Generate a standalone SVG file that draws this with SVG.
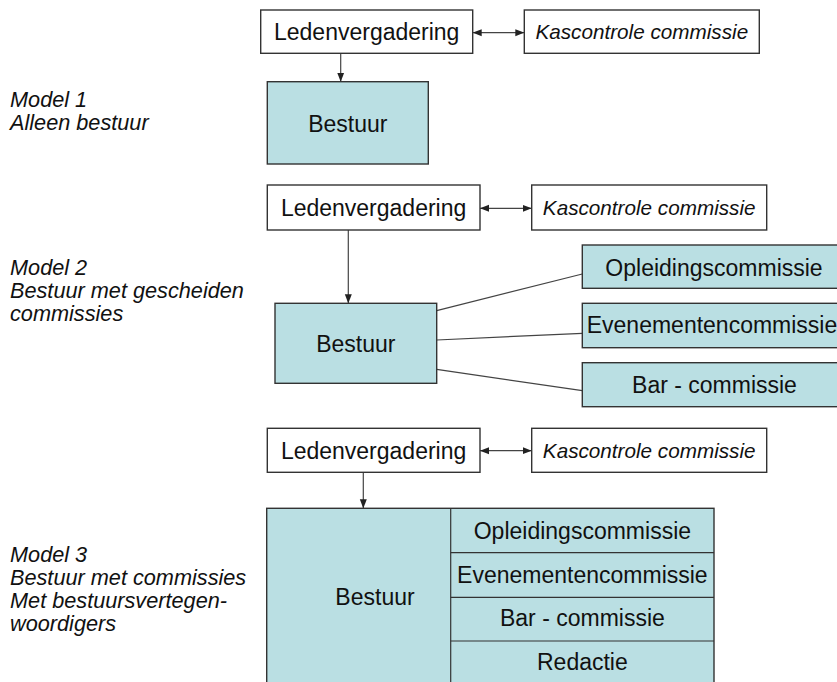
<svg xmlns="http://www.w3.org/2000/svg" width="837" height="682" viewBox="0 0 837 682">
<style>
.box{fill:#ffffff;stroke:#333333;stroke-width:1.4}
.teal{fill:#BADFE3;stroke:#333333;stroke-width:1.4}
.t{font-family:"Liberation Sans",Arial,sans-serif;fill:#111111;text-anchor:middle}
.n{font-size:23px}
.k{font-size:20.7px;font-style:italic}
.lbl{font-family:"Liberation Sans",Arial,sans-serif;fill:#111111;font-size:21.7px;font-style:italic}
.c{stroke:#444444;stroke-width:1.2;fill:none}
.div{stroke:#333333;stroke-width:1.2;fill:none}
</style>
<defs>
<marker id="ah" markerUnits="userSpaceOnUse" markerWidth="9" markerHeight="8" viewBox="0 0 9 8" refX="9" refY="4" orient="auto-start-reverse">
<path d="M0,0.5 L9,4 L0,7.5 Z" fill="#222222"/>
</marker>
</defs>
<rect width="837" height="682" fill="#ffffff"/>

<g id="labels">
<text class="lbl" x="10" y="107">Model 1</text>
<text class="lbl" x="10" y="130">Alleen bestuur</text>
<text class="lbl" x="10" y="275">Model 2</text>
<text class="lbl" x="10" y="298">Bestuur met gescheiden</text>
<text class="lbl" x="10" y="321">commissies</text>
<text class="lbl" x="10" y="562">Model 3</text>
<text class="lbl" x="10" y="585">Bestuur met commissies</text>
<text class="lbl" x="10" y="608">Met bestuursvertegen-</text>
<text class="lbl" x="10" y="631">woordigers</text>
</g>

<g id="connectors">
<line class="c" x1="472.7" y1="32.7" x2="524.3" y2="32.7" marker-start="url(#ah)" marker-end="url(#ah)"/>
<line class="c" x1="340.7" y1="53.3" x2="340.7" y2="81.7" marker-end="url(#ah)"/>
<line class="c" x1="480" y1="208.3" x2="531.7" y2="208.3" marker-start="url(#ah)" marker-end="url(#ah)"/>
<line class="c" x1="348.3" y1="230" x2="348.3" y2="303.3" marker-end="url(#ah)"/>
<line class="c" x1="436.7" y1="310.7" x2="582.3" y2="274"/>
<line class="c" x1="436.7" y1="340" x2="582.3" y2="333.3"/>
<line class="c" x1="436.7" y1="369.3" x2="582.3" y2="390.7"/>
<line class="c" x1="480" y1="450.7" x2="531.7" y2="450.7" marker-start="url(#ah)" marker-end="url(#ah)"/>
<line class="c" x1="363.3" y1="472.3" x2="363.3" y2="508.3" marker-end="url(#ah)"/>
</g>

<g id="m1-leden">
<rect class="box" x="260.7" y="10" width="212" height="43.3"/>
<text class="t n" x="366.7" y="40">Ledenvergadering</text>
</g>
<g id="m1-kas">
<rect class="box" x="524.3" y="10" width="235" height="43.3"/>
<text class="t k" x="641.8" y="39">Kascontrole commissie</text>
</g>
<g id="m1-bestuur">
<rect class="teal" x="267.3" y="81.7" width="161" height="82.3"/>
<text class="t n" x="347.8" y="132">Bestuur</text>
</g>

<g id="m2-leden">
<rect class="box" x="267.3" y="185" width="212.7" height="45"/>
<text class="t n" x="373.6" y="216">Ledenvergadering</text>
</g>
<g id="m2-kas">
<rect class="box" x="531.7" y="185" width="235" height="45"/>
<text class="t k" x="649.2" y="215">Kascontrole commissie</text>
</g>
<g id="m2-bestuur">
<rect class="teal" x="275" y="303.3" width="161.7" height="80"/>
<text class="t n" x="355.8" y="352">Bestuur</text>
</g>
<g id="m2-opleiding">
<rect class="teal" x="582.3" y="245" width="263" height="43.3"/>
<text class="t n" x="714" y="276">Opleidingscommissie</text>
</g>
<g id="m2-evenementen">
<rect class="teal" x="582.3" y="303.3" width="263" height="44.4"/>
<text class="t n" x="712" y="333">Evenementencommissie</text>
</g>
<g id="m2-bar">
<rect class="teal" x="582.3" y="362.7" width="263" height="44"/>
<text class="t n" x="714.5" y="392.5">Bar - commissie</text>
</g>

<g id="m3-leden">
<rect class="box" x="267.3" y="428.3" width="212.7" height="44"/>
<text class="t n" x="373.6" y="458.5">Ledenvergadering</text>
</g>
<g id="m3-kas">
<rect class="box" x="531.7" y="428.3" width="235" height="44"/>
<text class="t k" x="649.2" y="458">Kascontrole commissie</text>
</g>
<g id="m3-bestuur">
<rect class="teal" x="266.7" y="508.3" width="447.3" height="190"/>
<line class="div" x1="450.7" y1="508.3" x2="450.7" y2="690"/>
<text class="t n" x="375" y="605">Bestuur</text>
</g>
<g id="m3-opleiding">
<text class="t n" x="582.4" y="538.5">Opleidingscommissie</text>
</g>
<g id="m3-evenementen">
<line class="div" x1="450.7" y1="552.7" x2="714" y2="552.7"/>
<text class="t n" x="582.4" y="582.5">Evenementencommissie</text>
</g>
<g id="m3-bar">
<line class="div" x1="450.7" y1="597.3" x2="714" y2="597.3"/>
<text class="t n" x="582.4" y="626">Bar - commissie</text>
</g>
<g id="m3-redactie">
<line class="div" x1="450.7" y1="641" x2="714" y2="641"/>
<text class="t n" x="582.4" y="670">Redactie</text>
</g>
</svg>
